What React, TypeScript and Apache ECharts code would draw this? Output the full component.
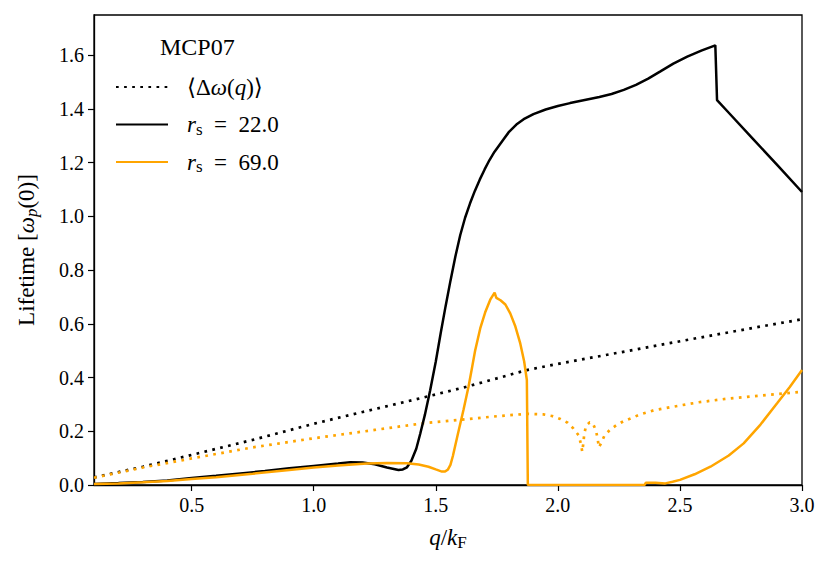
import React, { useEffect, useRef } from "react";
import * as echarts from "echarts";

// ---- data ----
const rs22Q = [0.1, 0.2, 0.3, 0.4, 0.5, 0.6, 0.7, 0.8, 0.9, 1.0, 1.1, 1.15, 1.2, 1.25, 1.3, 1.347, 1.365, 1.382, 1.4, 1.42, 1.436, 1.455, 1.477, 1.5, 1.52, 1.54, 1.56, 1.58, 1.6, 1.62, 1.64, 1.66, 1.68, 1.7, 1.72, 1.74, 1.76, 1.78, 1.8, 1.83, 1.86, 1.9, 1.95, 2.0, 2.05, 2.1, 2.17, 2.22, 2.27, 2.32, 2.37, 2.42, 2.473, 2.53, 2.59, 2.645, 2.652, 2.7, 2.8, 2.9, 3.0];
const rs22Life = [0.004, 0.007, 0.011, 0.017, 0.026, 0.034, 0.043, 0.052, 0.062, 0.071, 0.08, 0.085, 0.084, 0.077, 0.065, 0.056, 0.058, 0.066, 0.09, 0.135, 0.19, 0.26, 0.353, 0.46, 0.565, 0.665, 0.76, 0.85, 0.93, 0.995, 1.048, 1.095, 1.137, 1.175, 1.21, 1.24, 1.265, 1.29, 1.315, 1.342, 1.362, 1.381, 1.398, 1.411, 1.422, 1.432, 1.445, 1.456, 1.471, 1.49, 1.513, 1.54, 1.569, 1.595, 1.618, 1.637, 1.433, 1.386, 1.288, 1.19, 1.091];

const rs69Q = [0.1, 0.2, 0.3, 0.4, 0.5, 0.6, 0.75, 0.9, 1.0, 1.1, 1.218, 1.3, 1.382, 1.43, 1.47, 1.5, 1.525, 1.538, 1.55, 1.56, 1.57, 1.58, 1.59, 1.6, 1.614, 1.634, 1.648, 1.661, 1.682, 1.702, 1.723, 1.741, 1.748, 1.765, 1.785, 1.805, 1.826, 1.846, 1.862, 1.873, 1.877, 2.0, 2.2, 2.355, 2.36, 2.4, 2.44, 2.47, 2.5, 2.56, 2.625, 2.7, 2.761, 2.83, 2.898, 2.95, 3.0];
const rs69Life = [0.004, 0.006, 0.01, 0.015, 0.022, 0.029, 0.042, 0.056, 0.065, 0.073, 0.08, 0.082, 0.081, 0.076, 0.068, 0.058, 0.05, 0.05, 0.058, 0.075, 0.108, 0.148, 0.188, 0.227, 0.282, 0.366, 0.435, 0.5, 0.583, 0.642, 0.69, 0.716, 0.697, 0.688, 0.672, 0.639, 0.59, 0.527, 0.46, 0.391, 0.0, 0.0, 0.0, 0.0, 0.008, 0.008, 0.006, 0.012, 0.019, 0.04, 0.068, 0.11, 0.155, 0.225, 0.304, 0.365, 0.428];

const dw22Q = [0.1, 0.3, 0.5, 0.75, 1.0, 1.2, 1.45, 1.614, 1.75, 1.873, 1.95, 2.119, 2.25, 2.392, 2.577, 2.8, 3.0];
const dw22Val = [0.028, 0.068, 0.112, 0.168, 0.228, 0.272, 0.326, 0.363, 0.397, 0.428, 0.442, 0.471, 0.493, 0.517, 0.548, 0.585, 0.617];

const dw69Q = [0.1, 0.3, 0.5, 0.75, 1.0, 1.25, 1.45, 1.6, 1.75, 1.873, 1.941, 1.976, 2.01, 2.04, 2.064, 2.085, 2.094, 2.1, 2.105, 2.108, 2.116, 2.13, 2.142, 2.156, 2.163, 2.168, 2.177, 2.191, 2.215, 2.242, 2.272, 2.304, 2.335, 2.392, 2.5, 2.577, 2.7, 2.83, 3.0];
const dw69Val = [0.027, 0.065, 0.099, 0.14, 0.174, 0.205, 0.23, 0.243, 0.256, 0.265, 0.263, 0.257, 0.246, 0.232, 0.21, 0.185, 0.155, 0.124, 0.16, 0.19, 0.222, 0.233, 0.232, 0.203, 0.172, 0.14, 0.155, 0.184, 0.207, 0.224, 0.239, 0.25, 0.262, 0.278, 0.296, 0.308, 0.322, 0.333, 0.347];

const xTicks = [0.5, 1.0, 1.5, 2.0, 2.5, 3.0];
const yTicks = [0.0, 0.2, 0.4, 0.6, 0.8, 1.0, 1.2, 1.4, 1.6];

const legendLabels: Record<string, string> = {
  dw: "⟨Δ{i|ω}({i|q})⟩",
  rs22: "{i|r}{sub|s}\u2002=\u200222.0",
  rs69: "{i|r}{sub|s}\u2002=\u200269.0",
};

const zip = (a: number[], b: number[]) => a.map((v, i) => [v, b[i]]);

const FONT = "'Liberation Serif', 'DejaVu Serif', serif";
const ORANGE = "#FFA500";

export default function App() {
  const ref = useRef<HTMLDivElement>(null);
  useEffect(() => {
    document.body.style.margin = "0";
    if (!ref.current) return;
    const chart = echarts.init(ref.current, null, { renderer: "svg" });
    const richBase = (size: number, lh: number) => ({
      i: { fontFamily: FONT, fontStyle: "italic", fontSize: size, lineHeight: lh, color: "#000" },
      sub: { fontFamily: FONT, fontSize: Math.round(size * 0.72), verticalAlign: "bottom", lineHeight: lh, color: "#000" },
      isub: { fontFamily: FONT, fontStyle: "italic", fontSize: Math.round(size * 0.72), verticalAlign: "bottom", lineHeight: lh, color: "#000" },
    });
    chart.setOption({
      animation: false,
      backgroundColor: "#fff",
      title: {
        text: "MCP07",
        left: 160,
        top: 35,
        textStyle: { fontFamily: FONT, fontSize: 24, fontWeight: "normal", color: "#000" },
        padding: 0,
      },
      legend: {
        orient: "vertical",
        left: 115,
        top: 74,
        padding: 0,
        itemWidth: 52,
        itemHeight: 14,
        itemGap: 11.5,
        itemStyle: { opacity: 0 },
        data: ["dw", "rs22", "rs69"],
        formatter: (name: string) => legendLabels[name] || name,
        textStyle: {
          fontFamily: FONT,
          fontSize: 23,
          lineHeight: 26,
          color: "#000",
          padding: [0, 0, 0, 14],
          rich: richBase(23, 26),
        },
      },
      grid: {
        left: 94,
        right: 29,
        top: 15,
        bottom: 85,
        show: true,
        borderColor: "#000",
        borderWidth: 1.3,
        containLabel: false,
      },
      xAxis: {
        type: "value",
        min: 0.1,
        max: 3.0,
        name: "{i|q}/{i|k}{sub|F}",
        nameLocation: "middle",
        nameGap: 38,
        nameTextStyle: { fontFamily: FONT, fontSize: 23, color: "#000", lineHeight: 28, rich: richBase(23, 28) },
        axisLine: { show: true, lineStyle: { color: "#000", width: 1.3 } },
        axisTick: { show: true, length: 6, lineStyle: { color: "#000", width: 1.2 }, customValues: xTicks },
        axisLabel: {
          customValues: xTicks,
          formatter: (v: number) => v.toFixed(1),
          fontFamily: FONT,
          fontSize: 20,
          color: "#000",
          margin: 10,
        },
        splitLine: { show: false },
      },
      yAxis: {
        type: "value",
        min: 0,
        max: 1.75,
        name: "Lifetime [{i|ω}{isub|p}(0)]",
        nameLocation: "middle",
        nameRotate: 90,
        nameGap: 54,
        nameTextStyle: { fontFamily: FONT, fontSize: 23, color: "#000", lineHeight: 28, rich: richBase(23, 28) },
        axisLine: { show: true, lineStyle: { color: "#000", width: 1.3 } },
        axisTick: { show: true, length: 6, lineStyle: { color: "#000", width: 1.2 }, customValues: yTicks },
        axisLabel: {
          customValues: yTicks,
          formatter: (v: number) => v.toFixed(1),
          fontFamily: FONT,
          fontSize: 20,
          color: "#000",
          margin: 10,
        },
        splitLine: { show: false },
      },
      series: [
        {
          name: "dw",
          type: "line",
          data: zip(dw22Q, dw22Val),
          symbol: "none",
          lineStyle: { color: "#000", width: 2.7, type: [2.7, 5.4], cap: "butt" },
          itemStyle: { color: "#000" },
          z: 2,
        },
        {
          name: "dw69",
          type: "line",
          data: zip(dw69Q, dw69Val),
          symbol: "none",
          lineStyle: { color: ORANGE, width: 2.7, type: [2.7, 5.4], cap: "butt" },
          itemStyle: { color: ORANGE },
          z: 2,
        },
        {
          name: "rs22",
          type: "line",
          data: zip(rs22Q, rs22Life),
          symbol: "none",
          lineStyle: { color: "#000", width: 2.5 },
          itemStyle: { color: "#000" },
          z: 3,
        },
        {
          name: "rs69",
          type: "line",
          data: zip(rs69Q, rs69Life),
          symbol: "none",
          lineStyle: { color: ORANGE, width: 2.5 },
          itemStyle: { color: ORANGE },
          z: 3,
        },
      ],
    });
    return () => chart.dispose();
  }, []);
  return <div ref={ref} style={{ width: 831, height: 570 }} />;
}
